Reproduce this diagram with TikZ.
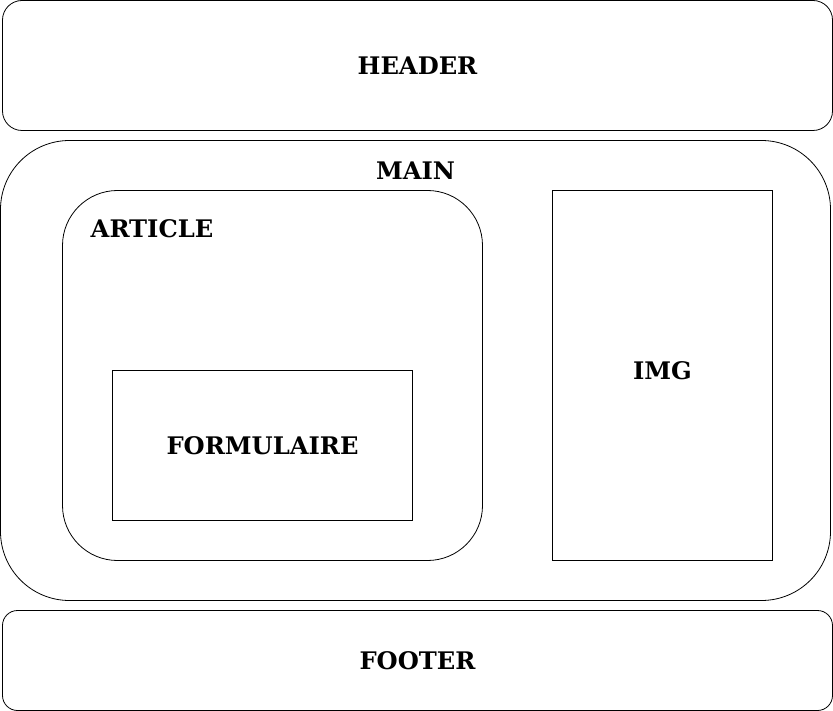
\documentclass[tikz,border=0pt]{standalone}
\usepackage{fontspec}
\setmainfont{DejaVu Serif}
\begin{document}
\begin{tikzpicture}[x=1pt,y=-1pt,
  lbl/.style={font=\bfseries\fontsize{24.2}{28}\selectfont, inner sep=0pt},
  boxline/.style={draw=black, line width=0.8pt}]
\useasboundingbox (0,0) rectangle (833,711);
\draw[boxline, rounded corners=19.5] (2.5,0.5) rectangle (832.5,130.5);
\node[lbl] (header) at (417.5,66) {HEADER};
\draw[boxline, rounded corners=69] (0.5,140.5) rectangle (830.5,600.5);
\node[lbl] (main) at (415.5,171) {MAIN};
\draw[boxline, rounded corners=55] (62.5,190.5) rectangle (482.5,560.5);
\node[lbl] (article) at (152,229) {ARTICLE};
\node[boxline, minimum width=300, minimum height=150, inner sep=0pt] (formbox) at (262.5,445.5) {};
\node[lbl] (form) at (262.5,446) {FORMULAIRE};
\node[boxline, minimum width=220, minimum height=370, inner sep=0pt] (imgbox) at (662.5,375.5) {};
\node[lbl] (img) at (662.5,371) {IMG};
\draw[boxline, rounded corners=15] (2.5,610.5) rectangle (832.5,710.5);
\node[lbl] (footer) at (417.5,661) {FOOTER};
\end{tikzpicture}
\end{document}
